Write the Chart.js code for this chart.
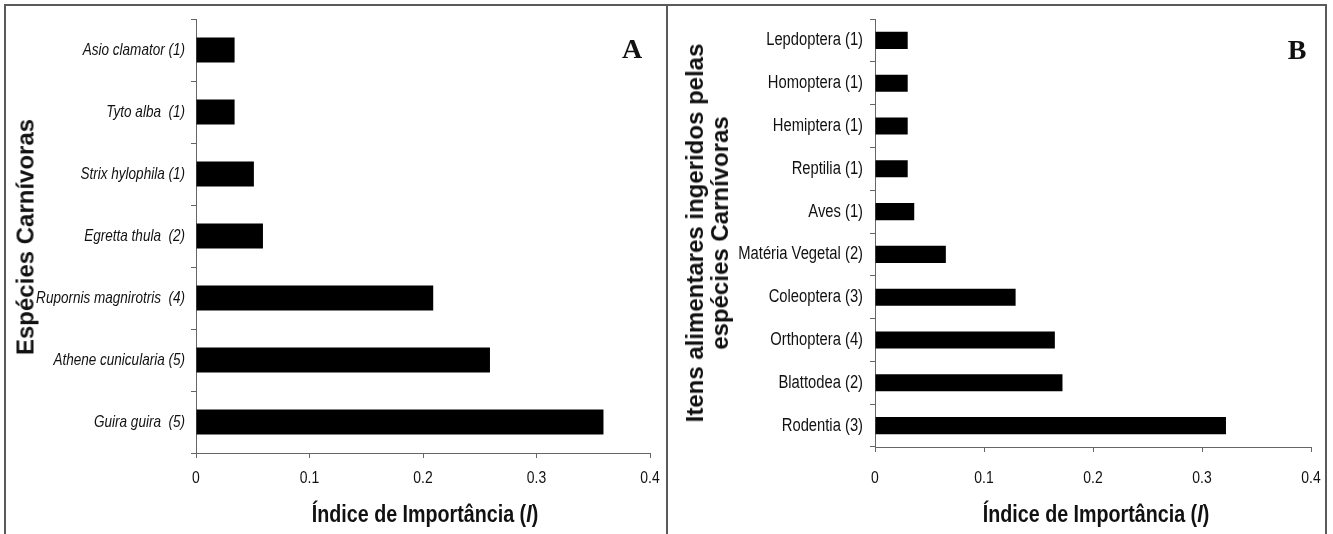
<!DOCTYPE html>
<html>
<head>
<meta charset="utf-8">
<script src="https://cdn.jsdelivr.net/npm/chart.js@4/dist/chart.umd.min.js"></script>
<style>
  html, body { margin: 0; padding: 0; background: #fff; }
  #page { position: relative; width: 1333px; height: 534px; overflow: hidden; background: #fff; }
  canvas { position: absolute; top: 0; }
  .rule { position: absolute; background: #5a5a5a; }
  .xtitle { position: absolute; font-family: "Liberation Sans", Arial, sans-serif;
            font-weight: bold; font-size: 24px; color: #111; white-space: nowrap;
            transform: translate(-50%, -50%) scaleX(0.82); }
  .ytitle { position: absolute; font-family: "Liberation Sans", Arial, sans-serif; font-weight: bold; font-size: 24px;
            color: #111; white-space: nowrap; text-align: center; line-height: 25px;
            transform: translate(-50%, -50%) rotate(-90deg); }
  .letter { position: absolute; font-family: "Liberation Serif", "Times New Roman", serif; font-weight: bold;
            font-size: 28px; color: #111; transform: translate(-50%, -50%); }
</style>
</head>
<body>
<div id="page">
  <canvas id="chartA" width="667" height="534" style="left:0"></canvas>
  <canvas id="chartB" width="666" height="534" style="left:667px"></canvas>

  <div class="rule" style="left:5px; top:4px; width:1322px; height:2px"></div>
  <div class="rule" style="left:4px; top:4px; width:2px; height:530px"></div>
  <div class="rule" style="left:666px; top:4px; width:2px; height:530px"></div>
  <div class="rule" style="left:1325px; top:4px; width:2px; height:530px"></div>

  <div class="ytitle" style="left:25px; top:237px">Espécies Carnívoras</div>
  <div class="ytitle" style="left:707px; top:233px">Itens alimentares ingeridos pelas<br>espécies Carnívoras</div>

  <div class="xtitle" style="left:425px; top:514px">Índice de Importância (<i>I</i>)</div>
  <div class="xtitle" style="left:1096px; top:514px">Índice de Importância (<i>I</i>)</div>

  <div class="letter" style="left:632px; top:49px">A</div>
  <div class="letter" style="left:1297px; top:50px">B</div>
</div>

<script>
// Panel A: carnivorous species
const speciesLabels = [
  'Asio clamator (1)', 'Tyto alba  (1)', 'Strix hylophila (1)', 'Egretta thula  (2)',
  'Rupornis magnirotris  (4)', 'Athene cunicularia (5)', 'Guira guira  (5)'
];
const speciesValues = [0.034, 0.034, 0.051, 0.059, 0.209, 0.259, 0.359];

// Panel B: food items eaten by the carnivorous species
const itemLabels = [
  'Lepdoptera (1)', 'Homoptera (1)', 'Hemiptera (1)', 'Reptilia (1)', 'Aves (1)',
  'Matéria Vegetal (2)', 'Coleoptera (3)', 'Orthoptera (4)', 'Blattodea (2)', 'Rodentia (3)'
];
const itemValues = [0.030, 0.030, 0.030, 0.030, 0.036, 0.065, 0.129, 0.165, 0.172, 0.322];

// Shared value axis
const xTickLabels = ['0', '0.1', '0.2', '0.3', '0.4'];
const xMin = 0, xMax = 0.4, xStep = 0.1;

const AXIS_COLOR = '#666';
const NARROW = 0.82;   // horizontal squeeze for a narrow sans look

// Tick labels drawn in a condensed style at the positions the scales report
const narrowTickLabels = {
  id: 'narrowTickLabels',
  afterDraw(chart, args, opts) {
    const ctx = chart.ctx;
    const xs = chart.scales.x, ys = chart.scales.y;
    ctx.save();
    ctx.fillStyle = '#111';

    // category labels
    ctx.font = (opts.italic ? 'italic ' : '') + opts.ySize + 'px "Liberation Sans", Arial, sans-serif';
    ctx.textAlign = 'right';
    ctx.textBaseline = 'middle';
    const lx = ys.right - 5 - opts.yPad;
    chart.data.labels.forEach((lab, i) => {
      const y = ys.getPixelForTick(i);
      ctx.save();
      ctx.translate(lx, y);
      ctx.scale(NARROW, 1);
      ctx.fillText(lab, 0, 0);
      ctx.restore();
    });

    // value labels
    ctx.font = opts.xSize + 'px "Liberation Sans", Arial, sans-serif';
    ctx.textAlign = 'center';
    const ty = xs.top + opts.xOffset;
    xTickLabels.forEach((lab, i) => {
      const x = xs.getPixelForValue(xMin + i * xStep);
      ctx.save();
      ctx.translate(x, ty);
      ctx.scale(NARROW, 1);
      ctx.fillText(lab, 0, 0);
      ctx.restore();
    });
    ctx.restore();
  }
};

function makeBarChart(canvasId, labels, values, cfg) {
  return new Chart(document.getElementById(canvasId), {
    type: 'bar',
    data: {
      labels: labels,
      datasets: [{
        data: values,
        backgroundColor: '#000',
        borderWidth: 0,
        barPercentage: 0.4,
        categoryPercentage: 1.0
      }]
    },
    plugins: [narrowTickLabels],
    options: {
      indexAxis: 'y',
      responsive: false,
      animation: false,
      events: [],
      layout: { padding: { left: 0, right: cfg.padRight, top: cfg.padTop, bottom: cfg.padBottom } },
      plugins: {
        legend: { display: false }, tooltip: { enabled: false }, title: { display: false },
        narrowTickLabels: { italic: cfg.italic, ySize: cfg.ySize, yPad: cfg.yTickPad, xSize: 17, xOffset: cfg.xOffset }
      },
      scales: {
        x: {
          type: 'linear',
          min: xMin, max: xMax,
          afterFit: s => { s.height = 40; },
          afterBuildTicks: s => { s.ticks = xTickLabels.map((t, i) => ({ value: xMin + i * xStep })); },
          ticks: { display: false },
          grid: { display: true, drawOnChartArea: false, drawTicks: true, tickLength: 5, color: AXIS_COLOR },
          border: { display: true, color: AXIS_COLOR, width: 1 }
        },
        y: {
          afterFit: s => { s.width = cfg.yWidth; },
          ticks: { display: false },
          grid: { display: true, offset: true, drawOnChartArea: false, drawTicks: true, tickLength: 5, color: AXIS_COLOR },
          border: { display: true, color: AXIS_COLOR, width: 1 }
        }
      }
    }
  });
}

makeBarChart('chartA', speciesLabels, speciesValues, {
  yWidth: 196, padRight: 17, padTop: 19, padBottom: 41, xOffset: 25, yTickPad: 6, ySize: 16.5, italic: true
});
makeBarChart('chartB', itemLabels, itemValues, {
  yWidth: 208, padRight: 22, padTop: 19, padBottom: 47, xOffset: 31, yTickPad: 7, ySize: 18, italic: false
});
</script>
</body>
</html>
